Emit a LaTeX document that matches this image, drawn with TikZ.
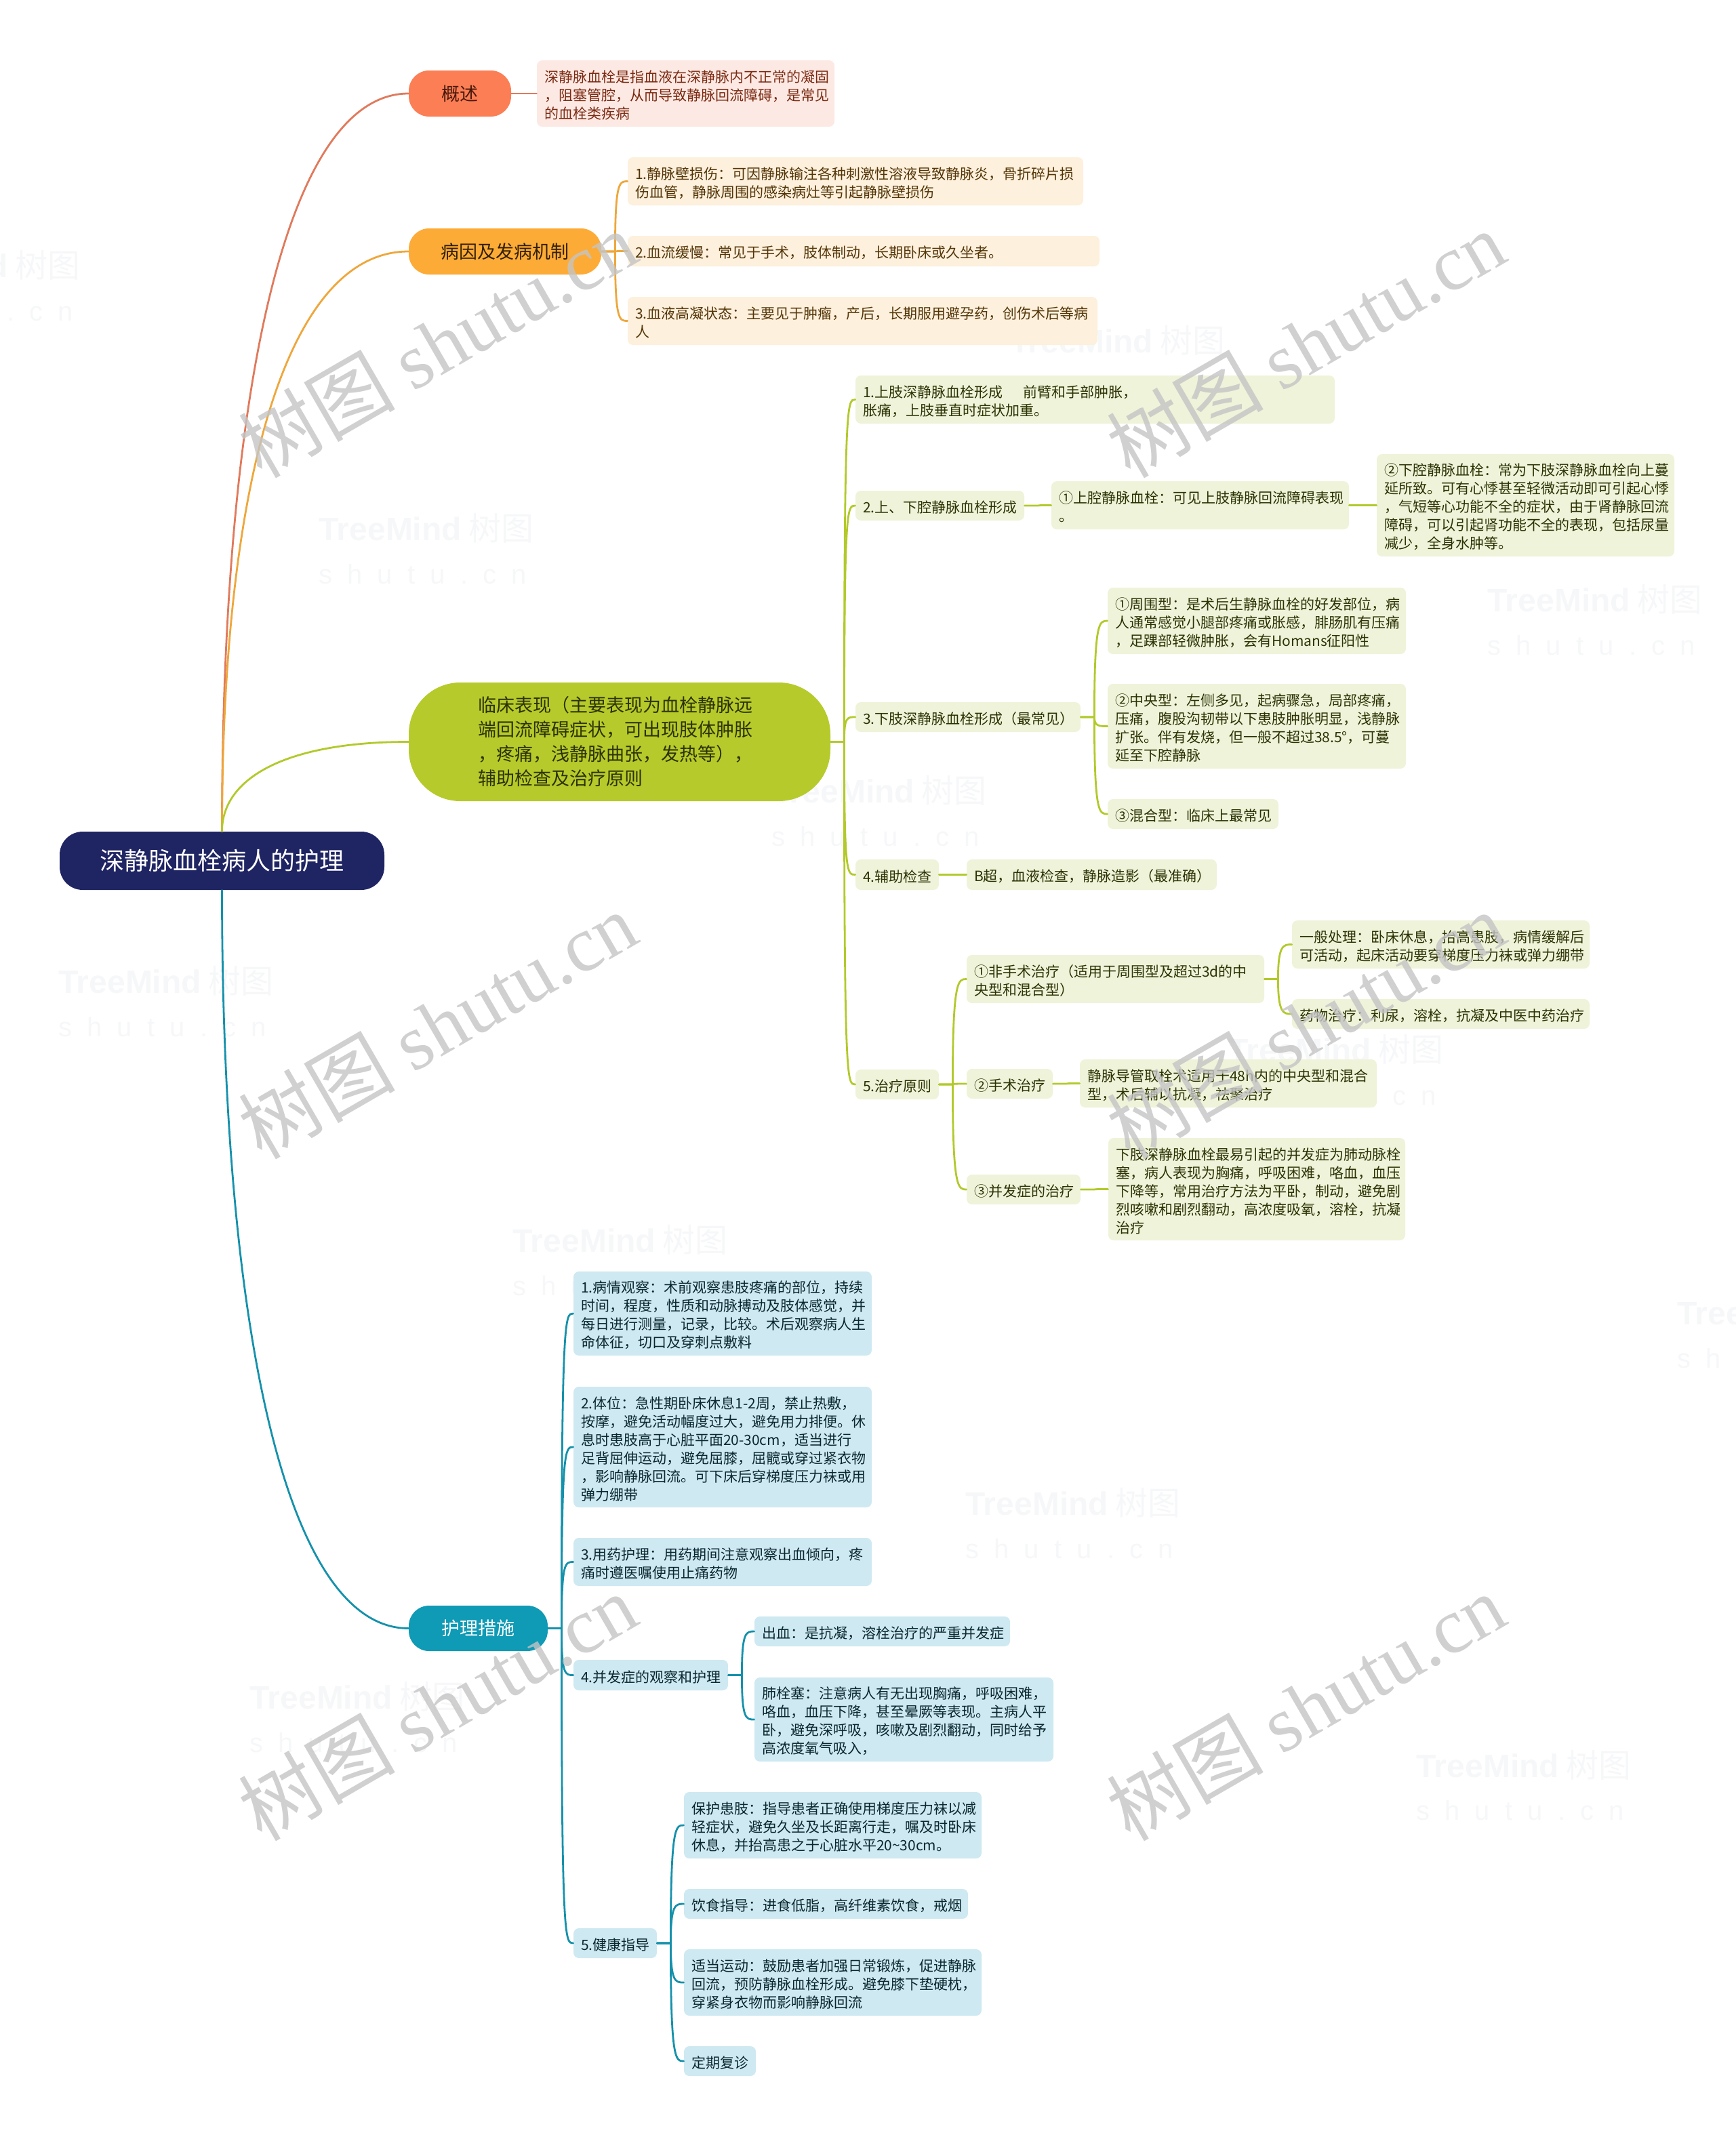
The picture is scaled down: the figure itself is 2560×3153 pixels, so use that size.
\documentclass[tikz,border=0pt]{standalone}
\usepackage{xcolor}
\usepackage{fontspec}
\setmainfont{Noto Sans CJK SC}
\newfontfamily\markserif{Liberation Serif}
\newfontfamily\marksans{Liberation Sans}
\usepackage{tikz}
\usetikzlibrary{calc}
\definecolor{RootNavy}{HTML}{1F2463}
\definecolor{RedTop}{HTML}{FB7E55}
\definecolor{RedLine}{HTML}{E07A5C}
\definecolor{RedSoft}{HTML}{FDE9E3}
\definecolor{RedInk}{HTML}{7A2A12}
\definecolor{OrangeTop}{HTML}{FDAB37}
\definecolor{OrangeLine}{HTML}{EEA73C}
\definecolor{OrangeSoft}{HTML}{FDF0DC}
\definecolor{OrangeInk}{HTML}{533508}
\definecolor{LimeTop}{HTML}{B6CA2B}
\definecolor{LimeLine}{HTML}{B3C92B}
\definecolor{LimeSoft}{HTML}{EFF3D9}
\definecolor{LimeInk}{HTML}{2C3204}
\definecolor{TealTop}{HTML}{0F9AB5}
\definecolor{TealLine}{HTML}{1591AB}
\definecolor{TealSoft}{HTML}{CEE9F1}
\definecolor{TealInk}{HTML}{0A262E}
\definecolor{MarkGray}{HTML}{C4C4C4}
\definecolor{FaintGray}{HTML}{F6F7F9}
\tikzset{
  mm/root/.style={fill=RootNavy, text=white, rounded corners=17pt, align=center, inner sep=0pt, font=\fontsize{18}{22}\selectfont},
  mm/topic/.style={rounded corners=15pt, align=center, inner sep=0pt, font=\fontsize{13.5}{18}\selectfont},
  mm/leaf/.style={rounded corners=4pt, align=left, inner xsep=5.5pt, inner ysep=0pt, font=\fontsize{10.5}{13.5}\selectfont, execute at begin node={\leavevmode\rule{0pt}{11.5pt}}},
  mm/size/.style 2 args={text width={(#1-22)*0.5pt}, minimum height={#2*0.5pt}},
  mm/tsize/.style 2 args={minimum width={#1*0.5pt}, minimum height={#2*0.5pt}},
  mm/redtop/.style={mm/topic, fill=RedTop, text=RedInk!60!black},
  mm/orangetop/.style={mm/topic, fill=OrangeTop, text=OrangeInk!60!black},
  mm/limetop/.style={mm/topic, fill=LimeTop, text=LimeInk},
  mm/tealtop/.style={mm/topic, fill=TealTop, text=white},
  mm/redleaf/.style={mm/leaf, fill=RedSoft, text=RedInk},
  mm/orangeleaf/.style={mm/leaf, fill=OrangeSoft, text=OrangeInk},
  mm/limeleaf/.style={mm/leaf, fill=LimeSoft, text=LimeInk},
  mm/tealleaf/.style={mm/leaf, fill=TealSoft, text=TealInk},
  mm/line/.style={line width=1.4pt, line cap=round},
  mm/fork/.style={mm/line, to path={(\tikztostart.east) -- ++(20,0) coordinate (s) .. controls (s |- \tikztotarget.west) and ($(\tikztotarget.west)+(-12,0)$) .. (\tikztotarget.west)}},
  mm/mark/.style={text=MarkGray, opacity=0.8, rotate=30, inner sep=0pt, font=\fontsize{58}{66}\selectfont},
  mm/faint/.style={text=FaintGray, align=left, inner sep=0pt, font=\fontsize{24}{32}\selectfont}
}
\begin{document}
\begin{tikzpicture}[x=0.5pt,y=-0.5pt]
\useasboundingbox (0,0) rectangle (2560,3153);
\foreach \tmx/\tmy [count=\i] in {629/810,1649/533,1297/1197,245/1478,2353/915,1971/1579,915/1860,1583/2248,527/2534,2248/2634,2633/1967,-40/422}
  \node[mm/faint] (tm\i) at (\tmx,\tmy) {{\marksans\bfseries TreeMind} 树图\\{\marksans\fontsize{20}{24}\selectfont s\ \ h\ \ u\ \ t\ \ u\ \ .\ \ c\ \ n}};

\node[mm/root,mm/tsize={479}{86}] (root) at (327.5,1270) {深静脉血栓病人的护理};

\node[mm/redtop,mm/tsize={151}{68}] (gs) at (678.5,138) {概述};
\node[mm/redleaf,mm/size={439}{98}] (gsa) at (1011.5,138) {深静脉血栓是指血液在深静脉内不正常的凝固\\，阻塞管腔，从而导致静脉回流障碍，是常见\\的血栓类疾病};

\node[mm/orangetop,mm/tsize={284}{68}] (by) at (745,371) {病因及发病机制};
\node[mm/orangeleaf,mm/size={672}{71}] (by1) at (1262,267.5) {1.静脉壁损伤：可因静脉输注各种刺激性溶液导致静脉炎，骨折碎片损\\伤血管，静脉周围的感染病灶等引起静脉壁损伤};
\node[mm/orangeleaf,mm/size={696}{45}] (by2) at (1274,370.5) {2.血流缓慢：常见于手术，肢体制动，长期卧床或久坐者。};
\node[mm/orangeleaf,mm/size={693}{71}] (by3) at (1272.5,473.5) {3.血液高凝状态：主要见于肿瘤，产后，长期服用避孕药，创伤术后等病\\人};

\node[mm/limetop,mm/tsize={622}{175},rounded corners=38pt,align=left,text width=209pt] (lc) at (914,1094.5) {临床表现（主要表现为血栓静脉远\\端回流障碍症状，可出现肢体肿胀\\，疼痛，浅静脉曲张，发热等），\\辅助检查及治疗原则};
\node[mm/limeleaf,mm/size={707}{71}] (lc1) at (1615.5,589.5) {1.上肢深静脉血栓形成\hspace{15pt}前臂和手部肿胀，\\胀痛，上肢垂直时症状加重。};
\node[mm/limeleaf,mm/size={249}{44}] (lc2) at (1386.5,746) {2.上、下腔静脉血栓形成};
\node[mm/limeleaf,mm/size={439}{71}] (lc2a) at (1770.5,745.5) {①上腔静脉血栓：可见上肢静脉回流障碍表现\\。};
\node[mm/limeleaf,mm/size={439}{151}] (lc2b) at (2250.5,745.5) {②下腔静脉血栓：常为下肢深静脉血栓向上蔓\\延所致。可有心悸甚至轻微活动即可引起心悸\\，气短等心功能不全的症状，由于肾静脉回流\\障碍，可以引起肾功能不全的表现，包括尿量\\减少，全身水肿等。};
\node[mm/limeleaf,mm/size={332}{44}] (lc3) at (1428,1058) {3.下肢深静脉血栓形成（最常见）};
\node[mm/limeleaf,mm/size={440}{98}] (lc3a) at (1854,916) {①周围型：是术后生静脉血栓的好发部位，病\\人通常感觉小腿部疼痛或胀感，腓肠肌有压痛\\，足踝部轻微肿胀，会有Homans征阳性};
\node[mm/limeleaf,mm/size={440}{125}] (lc3b) at (1854,1071.5) {②中央型：左侧多见，起病骤急，局部疼痛，\\压痛，腹股沟韧带以下患肢肿胀明显，浅静脉\\扩张。伴有发烧，但一般不超过38.5°，可蔓\\延至下腔静脉};
\node[mm/limeleaf,mm/size={252}{44}] (lc3c) at (1760,1201) {③混合型：临床上最常见};
\node[mm/limeleaf,mm/size={123}{45}] (lc4) at (1323.5,1290.5) {4.辅助检查};
\node[mm/limeleaf,mm/size={369}{45}] (lc4a) at (1610.5,1290.5) {B超，血液检查，静脉造影（最准确）};
\node[mm/limeleaf,mm/size={123}{44}] (lc5) at (1323.5,1600) {5.治疗原则};
\node[mm/limeleaf,mm/size={439}{71}] (zl1) at (1645.5,1444.5) {①非手术治疗（适用于周围型及超过3d的中\\央型和混合型）};
\node[mm/limeleaf,mm/size={439}{71}] (zl1a) at (2125.5,1393.5) {一般处理：卧床休息，抬高患肢，病情缓解后\\可活动，起床活动要穿梯度压力袜或弹力绷带};
\node[mm/limeleaf,mm/size={439}{44}] (zl1b) at (2125.5,1496) {药物治疗：利尿，溶栓，抗凝及中医中药治疗};
\node[mm/limeleaf,mm/size={127}{44}] (zl2) at (1489.5,1599) {②手术治疗};
\node[mm/limeleaf,mm/size={438}{71}] (zl2a) at (1812,1598.5) {静脉导管取栓术适用于48h内的中央型和混合\\型，术后辅以抗凝，祛聚治疗};
\node[mm/limeleaf,mm/size={168}{44}] (zl3) at (1510,1755) {③并发症的治疗};
\node[mm/limeleaf,mm/size={438}{151}] (zl3a) at (1854,1754.5) {下肢深静脉血栓最易引起的并发症为肺动脉栓\\塞，病人表现为胸痛，呼吸困难，咯血，血压\\下降等，常用治疗方法为平卧，制动，避免剧\\烈咳嗽和剧烈翻动，高浓度吸氧，溶栓，抗凝\\治疗};

\node[mm/tealtop,mm/tsize={205}{67}] (hl) at (705.5,2402.5) {护理措施};
\node[mm/tealleaf,mm/size={440}{124}] (hl1) at (1066,1938) {1.病情观察：术前观察患肢疼痛的部位，持续\\时间，程度，性质和动脉搏动及肢体感觉，并\\每日进行测量，记录，比较。术后观察病人生\\命体征，切口及穿刺点敷料};
\node[mm/tealleaf,mm/size={440}{178}] (hl2) at (1066,2135) {2.体位：急性期卧床休息1-2周，禁止热敷，\\按摩，避免活动幅度过大，避免用力排便。休\\息时患肢高于心脏平面20-30cm，适当进行\\足背屈伸运动，避免屈膝，屈髋或穿过紧衣物\\，影响静脉回流。可下床后穿梯度压力袜或用\\弹力绷带};
\node[mm/tealleaf,mm/size={440}{71}] (hl3) at (1066,2304.5) {3.用药护理：用药期间注意观察出血倾向，疼\\痛时遵医嘱使用止痛药物};
\node[mm/tealleaf,mm/size={228}{45}] (hl4) at (960,2471.5) {4.并发症的观察和护理};
\node[mm/tealleaf,mm/size={377}{44}] (hl4a) at (1301.5,2407) {出血：是抗凝，溶栓治疗的严重并发症};
\node[mm/tealleaf,mm/size={441}{124}] (hl4b) at (1333.5,2537) {肺栓塞：注意病人有无出现胸痛，呼吸困难，\\咯血，血压下降，甚至晕厥等表现。主病人平\\卧，避免深呼吸，咳嗽及剧烈翻动，同时给予\\高浓度氧气吸入，};
\node[mm/tealleaf,mm/size={123}{44}] (hl5) at (907.5,2867) {5.健康指导};
\node[mm/tealleaf,mm/size={439}{98}] (hl5a) at (1228.5,2693) {保护患肢：指导患者正确使用梯度压力袜以减\\轻症状，避免久坐及长距离行走，嘱及时卧床\\休息，并抬高患之于心脏水平20\textasciitilde 30cm。};
\node[mm/tealleaf,mm/size={419}{44}] (hl5b) at (1218.5,2809) {饮食指导：进食低脂，高纤维素饮食，戒烟};
\node[mm/tealleaf,mm/size={439}{98}] (hl5c) at (1228.5,2925) {适当运动：鼓励患者加强日常锻炼，促进静脉\\回流，预防静脉血栓形成。避免膝下垫硬枕，\\穿紧身衣物而影响静脉回流};
\node[mm/tealleaf,mm/size={106}{44}] (hl5d) at (1062,3041) {定期复诊};

\draw[mm/line,RedLine] (root.north) .. controls +(0,-643) and +(-182,0) .. (gs.west);
\draw[mm/line,OrangeLine] (root.north) .. controls +(0,-505) and +(-183,0) .. (by.west);
\draw[mm/line,LimeLine] (root.north) .. controls +(0,-78) and +(-182,0) .. (lc.west);
\draw[mm/line,TealLine] (root.south) .. controls +(0,643) and +(-182,0) .. (hl.west);

\draw[mm/fork,RedLine] (gs) to (gsa);
\draw[mm/fork,OrangeLine] (by) to (by1);
\draw[mm/fork,OrangeLine] (by) to (by2);
\draw[mm/fork,OrangeLine] (by) to (by3);
\draw[mm/fork,LimeLine] (lc) to (lc1);
\draw[mm/fork,LimeLine] (lc) to (lc2);
\draw[mm/fork,LimeLine] (lc) to (lc3);
\draw[mm/fork,LimeLine] (lc) to (lc4);
\draw[mm/fork,LimeLine] (lc) to (lc5);
\draw[mm/fork,LimeLine] (lc2) to (lc2a);
\draw[mm/fork,LimeLine] (lc2a) to (lc2b);
\draw[mm/fork,LimeLine] (lc3) to (lc3a);
\draw[mm/fork,LimeLine] (lc3) to (lc3b);
\draw[mm/fork,LimeLine] (lc3) to (lc3c);
\draw[mm/fork,LimeLine] (lc4) to (lc4a);
\draw[mm/fork,LimeLine] (lc5) to (zl1);
\draw[mm/fork,LimeLine] (lc5) to (zl2);
\draw[mm/fork,LimeLine] (lc5) to (zl3);
\draw[mm/fork,LimeLine] (zl1) to (zl1a);
\draw[mm/fork,LimeLine] (zl1) to (zl1b);
\draw[mm/fork,LimeLine] (zl2) to (zl2a);
\draw[mm/fork,LimeLine] (zl3) to (zl3a);
\draw[mm/fork,TealLine] (hl) to (hl1);
\draw[mm/fork,TealLine] (hl) to (hl2);
\draw[mm/fork,TealLine] (hl) to (hl3);
\draw[mm/fork,TealLine] (hl) to (hl4);
\draw[mm/fork,TealLine] (hl) to (hl5);
\draw[mm/fork,TealLine] (hl4) to (hl4a);
\draw[mm/fork,TealLine] (hl4) to (hl4b);
\draw[mm/fork,TealLine] (hl5) to (hl5a);
\draw[mm/fork,TealLine] (hl5) to (hl5b);
\draw[mm/fork,TealLine] (hl5) to (hl5c);
\draw[mm/fork,TealLine] (hl5) to (hl5d);

\foreach \wmx/\wmy [count=\i] in {645/507,1926/507,645/1512,1926/1512,645/2518,1926/2518}
  \node[mm/mark] (wm\i) at (\wmx,\wmy) {树图 {\markserif shutu.cn}};
\end{tikzpicture}
\end{document}
